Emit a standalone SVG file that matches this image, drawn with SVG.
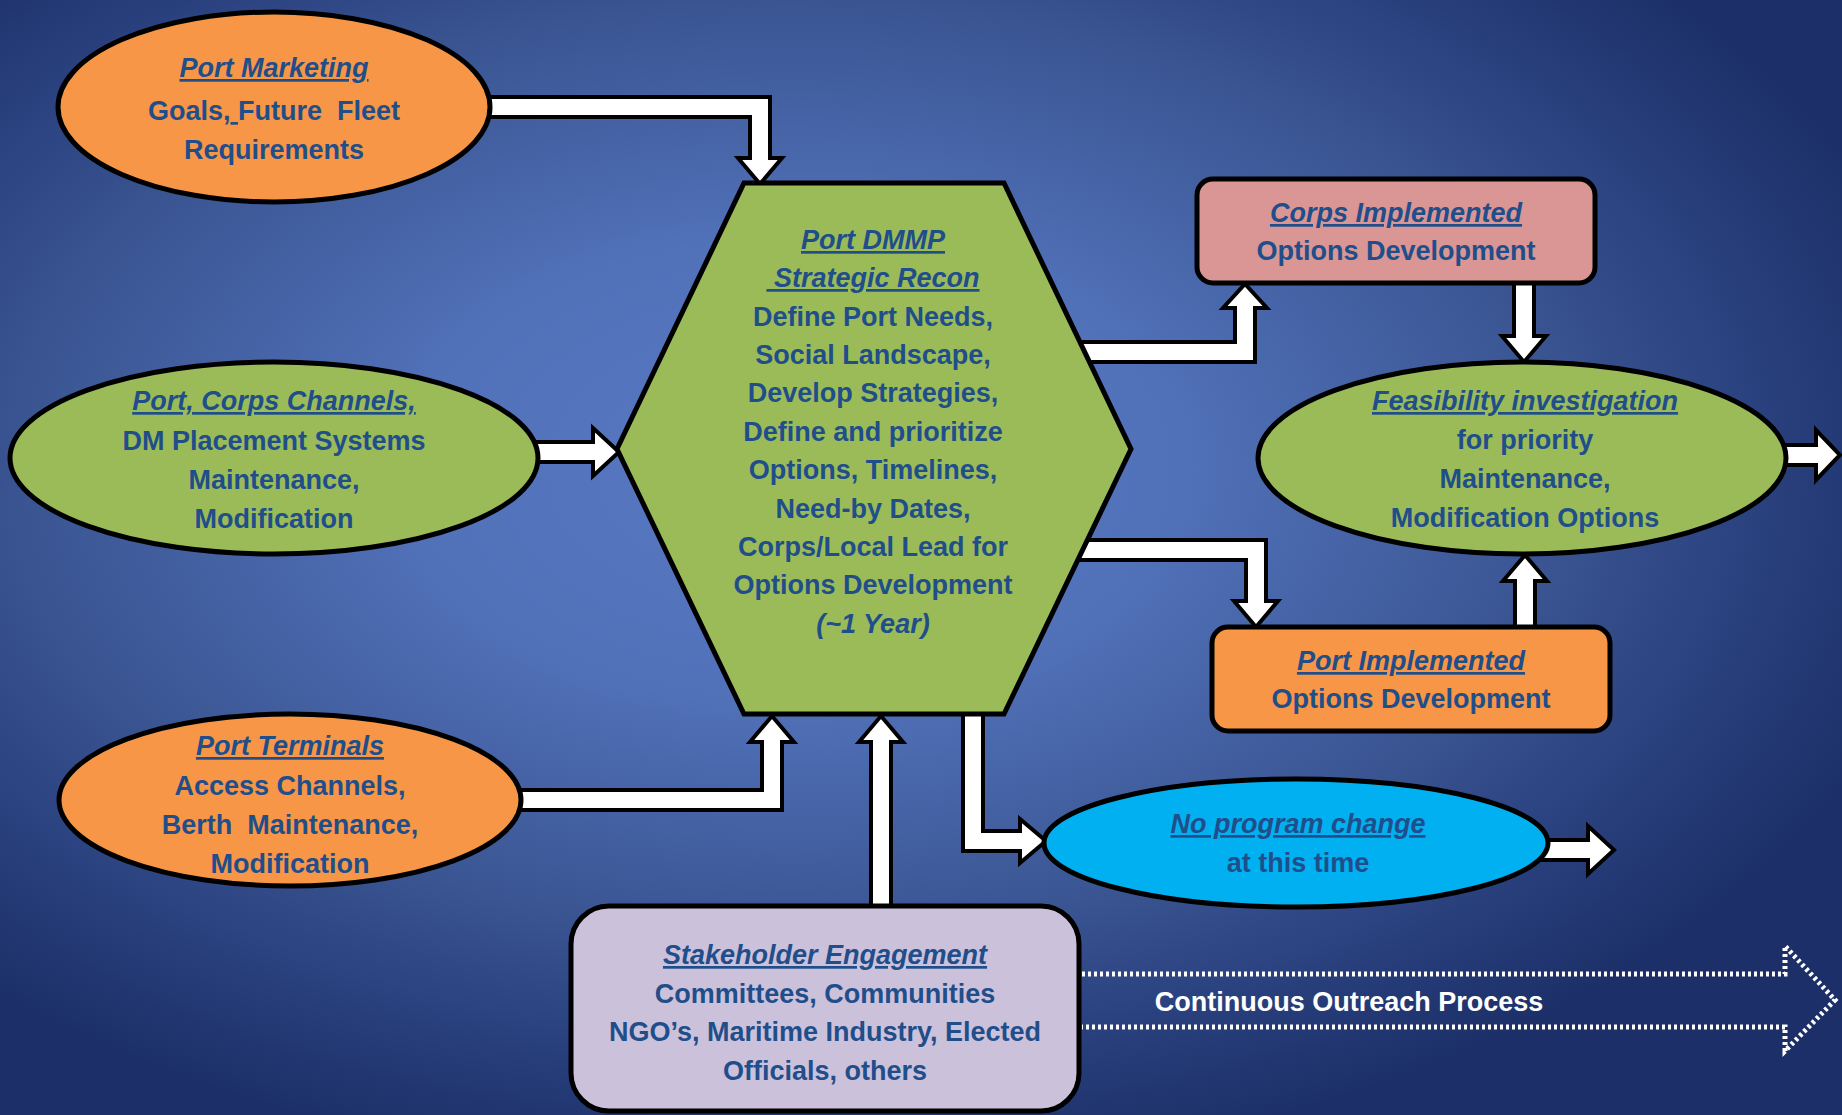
<svg xmlns="http://www.w3.org/2000/svg" width="1842" height="1115" viewBox="0 0 1842 1115">
<defs>
<radialGradient id="bg" cx="0.43" cy="0.42" r="0.64">
<stop offset="0" stop-color="#5878c3"/>
<stop offset="0.32" stop-color="#5171b9"/>
<stop offset="0.65" stop-color="#3a5592"/>
<stop offset="0.85" stop-color="#273e7b"/>
<stop offset="1" stop-color="#1c2f68"/>
</radialGradient>
<style>
.t{font-family:"Liberation Sans",Arial,sans-serif;font-size:27px;font-weight:bold;fill:#1f4e8a;text-anchor:middle;white-space:pre}
.h{font-style:italic;text-decoration:underline}
.n{stroke:#000;stroke-width:5}
.arr{fill:#fff;stroke:#000;stroke-width:4;stroke-linejoin:miter}
</style>
</defs>
<rect width="1842" height="1115" fill="url(#bg)"/>
<g id="connectors">
<polygon class="arr" points="470,97 770,97 770,158 782,158 760,184 738,158 750,158 750,117 470,117"/>
<polygon class="arr" points="520,442 593,442 593,428 619,452 593,476 593,462 520,462"/>
<polygon class="arr" points="505,790 762,790 762,742 750,742 772,716 794,742 782,742 782,810 505,810"/>
<polygon class="arr" points="871,915 871,742 859,742 881,716 903,742 891,742 891,915"/>
<polygon class="arr" points="963,700 983,700 983,831 1020,831 1020,819 1046,841 1020,863 1020,851 963,851"/>
<polygon class="arr" points="1530,840 1588,840 1588,826 1614,850 1588,874 1588,860 1530,860"/>
<polygon class="arr" points="1770,445 1816,445 1816,430 1840,455 1816,480 1816,465 1770,465"/>
<polygon class="arr" points="1070,342 1235,342 1235,308 1223,308 1245,284 1267,308 1255,308 1255,362 1070,362"/>
<polygon class="arr" points="1070,540 1266,540 1266,601 1278,601 1256,627 1234,601 1246,601 1246,560 1070,560"/>
<polygon class="arr" points="1514,270 1534,270 1534,336 1546,336 1524,362 1502,336 1514,336"/>
<polygon class="arr" points="1515,640 1515,581 1503,581 1525,555 1547,581 1535,581 1535,640"/>
<path d="M1082,974 L1785,974 L1785,946 L1835,1000 L1785,1051 L1785,1027 L1082,1027" fill="none" stroke="#fff" stroke-width="5" stroke-dasharray="3 3"/>
</g>
<g id="port-marketing">
<ellipse class="n" cx="274" cy="107" rx="216" ry="95" fill="#f79646"/>
<text class="t" x="274" y="77"><tspan class="h">Port Marketing</tspan></text>
<text class="t" x="274" y="120">Goals,<tspan text-decoration="underline"> </tspan>Future  Fleet</text>
<text class="t" x="274" y="159">Requirements</text>
</g>
<g id="port-corps-channels">
<ellipse class="n" cx="274" cy="458" rx="264" ry="96" fill="#9bbb59"/>
<text class="t" x="274" y="410"><tspan class="h">Port, Corps Channels,</tspan></text>
<text class="t" x="274" y="450">DM Placement Systems</text>
<text class="t" x="274" y="489">Maintenance,</text>
<text class="t" x="274" y="528">Modification</text>
</g>
<g id="port-terminals">
<ellipse class="n" cx="290" cy="800" rx="231" ry="86" fill="#f79646"/>
<text class="t" x="290" y="755"><tspan class="h">Port Terminals</tspan></text>
<text class="t" x="290" y="795">Access Channels,</text>
<text class="t" x="290" y="834">Berth  Maintenance,</text>
<text class="t" x="290" y="873">Modification</text>
</g>
<g id="port-dmmp">
<polygon class="n" points="744,183 1004,183 1131,449 1004,714 744,714 617,449" fill="#9bbb59"/>
<text class="t" x="873" y="249"><tspan class="h">Port DMMP</tspan></text>
<text class="t" x="873" y="287"><tspan class="h"> Strategic Recon</tspan></text>
<text class="t" x="873" y="326">Define Port Needs,</text>
<text class="t" x="873" y="364">Social Landscape,</text>
<text class="t" x="873" y="402">Develop Strategies,</text>
<text class="t" x="873" y="441">Define and prioritize</text>
<text class="t" x="873" y="479">Options, Timelines,</text>
<text class="t" x="873" y="518">Need-by Dates,</text>
<text class="t" x="873" y="556">Corps/Local Lead for</text>
<text class="t" x="873" y="594">Options Development</text>
<text class="t" x="873" y="633" font-style="italic">(~1 Year)</text>
</g>
<g id="corps-implemented">
<rect class="n" x="1197" y="179" width="398" height="104" rx="16" fill="#d99694"/>
<text class="t" x="1396" y="222"><tspan class="h">Corps Implemented</tspan></text>
<text class="t" x="1396" y="260">Options Development</text>
</g>
<g id="feasibility">
<ellipse class="n" cx="1522" cy="458" rx="264" ry="96" fill="#9bbb59"/>
<text class="t" x="1525" y="410"><tspan class="h">Feasibility investigation</tspan></text>
<text class="t" x="1525" y="449">for priority</text>
<text class="t" x="1525" y="488">Maintenance,</text>
<text class="t" x="1525" y="527">Modification Options</text>
</g>
<g id="port-implemented">
<rect class="n" x="1212" y="627" width="398" height="104" rx="16" fill="#f79646"/>
<text class="t" x="1411" y="670"><tspan class="h">Port Implemented</tspan></text>
<text class="t" x="1411" y="708">Options Development</text>
</g>
<g id="no-program-change">
<ellipse class="n" cx="1296" cy="843" rx="252" ry="64" fill="#00b0f0"/>
<text class="t" x="1298" y="833"><tspan class="h">No program change</tspan></text>
<text class="t" x="1298" y="872">at this time</text>
</g>
<g id="stakeholder">
<rect class="n" x="571" y="906" width="508" height="205" rx="38" fill="#ccc1da"/>
<text class="t" x="825" y="964"><tspan class="h">Stakeholder Engagement</tspan></text>
<text class="t" x="825" y="1003">Committees, Communities</text>
<text class="t" x="825" y="1041">NGO’s, Maritime Industry, Elected</text>
<text class="t" x="825" y="1080">Officials, others</text>
</g>
<g id="outreach-label">
<text class="t" x="1349" y="1011" style="fill:#fff">Continuous Outreach Process</text>
</g>
</svg>
